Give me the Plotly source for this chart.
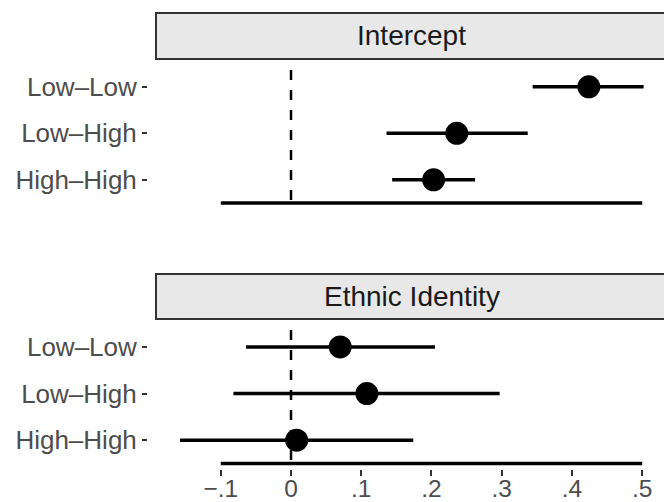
import plotly.graph_objects as go

# ---- data ----
groups = ["Low–Low", "Low–High", "High–High"]
panels = ["Intercept", "Ethnic Identity"]

intercept_est = [0.424, 0.236, 0.203]
intercept_lo = [0.344, 0.136, 0.144]
intercept_hi = [0.502, 0.337, 0.262]

ethnic_est = [0.070, 0.108, 0.008]
ethnic_lo = [-0.064, -0.082, -0.158]
ethnic_hi = [0.205, 0.297, 0.174]

x_tickvals = [-0.1, 0.0, 0.1, 0.2, 0.3, 0.4, 0.5]
x_ticktext = ["−.1", "0", ".1", ".2", ".3", ".4", ".5"]

# ---- layout geometry ----
W, H = 664, 502
ML, MT, MB = 147, 59, 33
plot_h = H - MT - MB
plot_w = W - ML

def py(pix):
    return (H - MB - pix) / plot_h

def px(pix):
    return (pix - ML) / plot_w

xdom = [px(156), 1.0]
ydom_top = [py(203), 1.0]
ydom_bot = [py(463.5), py(319)]
xrange = [-0.1922, 0.5310]
yrange = [2.5, -0.6]

FONT = "Liberation Sans"
TICKFONT = dict(family=FONT, size=26, color="#4D4D4D")
XTICKFONT = dict(family=FONT, size=24.5, color="#4D4D4D")

fig = go.Figure()

series = [
    (intercept_est, intercept_lo, intercept_hi, "x", "y"),
    (ethnic_est, ethnic_lo, ethnic_hi, "x2", "y2"),
]
for est, lo, hi, xa, ya in series:
    fig.add_trace(go.Scatter(
        x=est, y=groups, mode="markers",
        marker=dict(size=23, color="black"),
        error_x=dict(type="data", symmetric=False,
                     array=[h - e for h, e in zip(hi, est)],
                     arrayminus=[e - l for e, l in zip(est, lo)],
                     width=0, thickness=3.5, color="black"),
        xaxis=xa, yaxis=ya, showlegend=False, hoverinfo="skip",
    ))

common_y = dict(type="category", categoryorder="array", categoryarray=groups,
                range=yrange, anchor="free", position=0, showline=False,
                showgrid=False, zeroline=False, ticks="outside", ticklen=5,
                tickwidth=2, tickcolor="#333333", tickfont=TICKFONT,
                automargin=False)

fig.update_layout(
    width=W, height=H,
    margin=dict(l=ML, r=0, t=MT, b=MB, pad=0, autoexpand=False),
    plot_bgcolor="white", paper_bgcolor="white",
    font=dict(family=FONT),
    xaxis=dict(domain=xdom, range=xrange, anchor="y", showticklabels=False,
               ticks="", showline=False, showgrid=False, zeroline=False,
               automargin=False),
    xaxis2=dict(domain=xdom, range=xrange, anchor="free", position=0,
                tickvals=x_tickvals, ticktext=x_ticktext, ticks="outside",
                ticklen=6, tickwidth=2, tickcolor="#333333", tickfont=XTICKFONT,
                ticklabelstandoff=-8,
                showline=False, showgrid=False, zeroline=False,
                automargin=False),
    yaxis=dict(domain=ydom_top, **common_y),
    yaxis2=dict(domain=ydom_bot, **common_y),
)

shapes = []
annotations = []
strip_boxes = [(13, 59), (274, 319)]
for i, (xa, ya) in enumerate([("x", "y"), ("x2", "y2")]):
    # capped x axis line
    shapes.append(dict(type="line", xref=xa, yref=ya + " domain",
                       x0=min(x_tickvals), x1=max(x_tickvals), y0=0, y1=0,
                       line=dict(color="black", width=3.3), layer="below"))
    # dashed reference line at 0
    shapes.append(dict(type="line", xref=xa, yref=ya + " domain",
                       x0=0, x1=0, y0=1 - 11 / 144.5, y1=0,
                       line=dict(color="black", width=2.5, dash="10px,10px"),
                       layer="below"))
    # strip
    top, bot = strip_boxes[i]
    shapes.append(dict(type="rect", xref="paper", yref="paper",
                       x0=xdom[0], x1=1.05, y0=py(bot), y1=py(top),
                       fillcolor="#E8E8E8", line=dict(color="#333333", width=2)))
    annotations.append(dict(text=panels[i], xref="paper", yref="paper",
                            x=px(411.5), y=py((top + bot) / 2),
                            xanchor="center", yanchor="middle", showarrow=False,
                            font=dict(family=FONT, size=28, color="#1A1A1A")))

fig.update_layout(shapes=shapes, annotations=annotations)

fig.write_html(
    "out.html",
    config={"displayModeBar": False},
    post_script="document.body.style.margin='0';document.body.style.overflow='hidden';",
)
